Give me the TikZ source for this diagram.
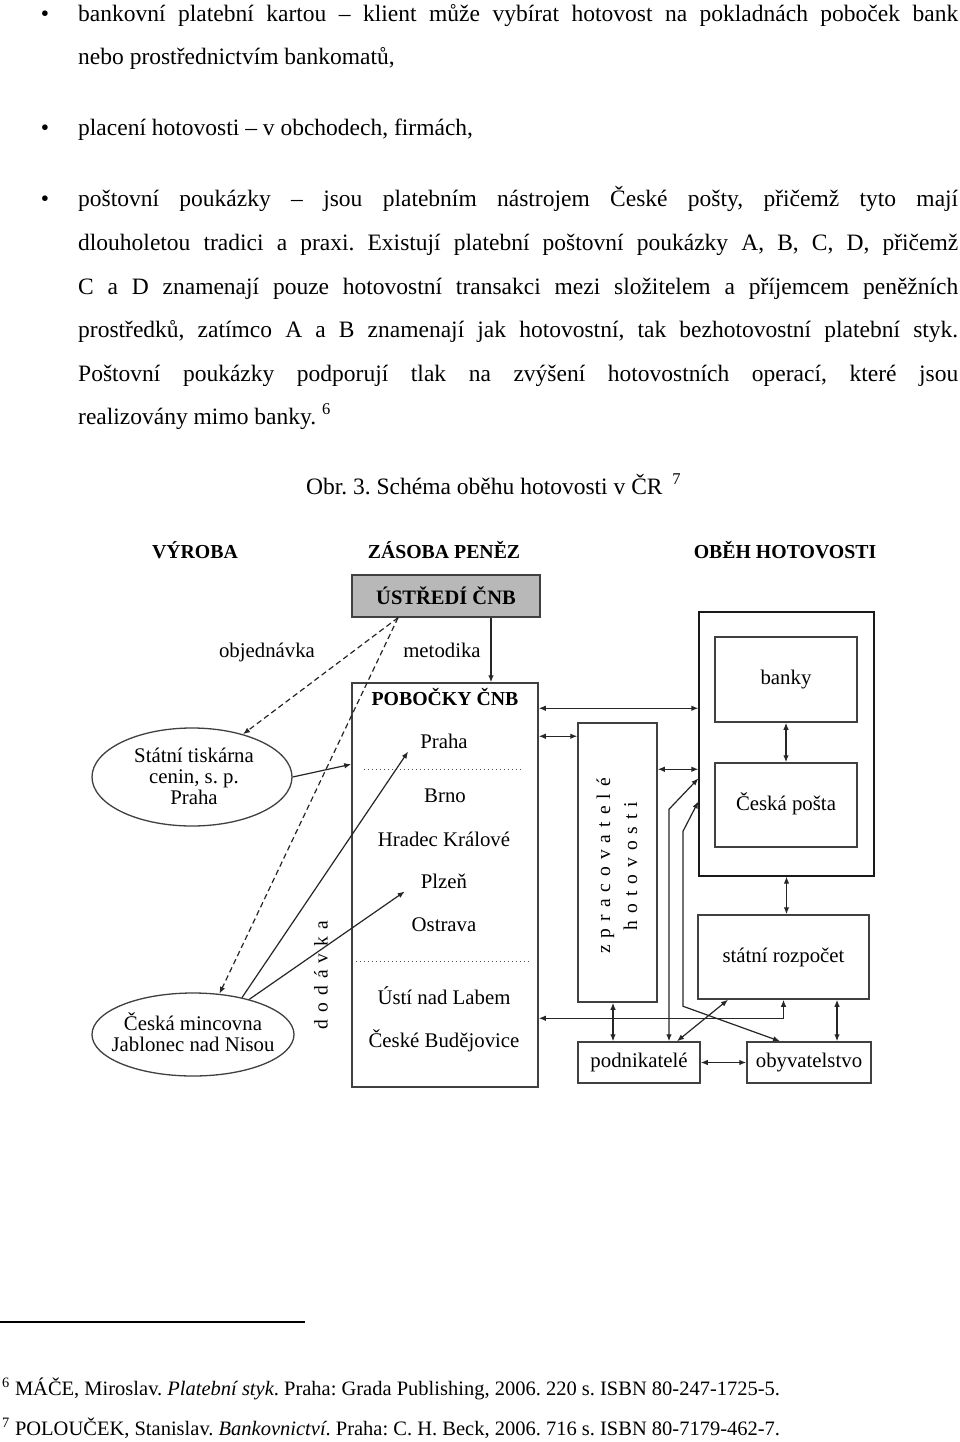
\documentclass[tikz,border=0pt]{standalone}
\usepackage{fontspec}
\setmainfont{Liberation Serif}
\usetikzlibrary{arrows.meta,shapes.geometric}
\frenchspacing
\begin{document}
\frenchspacing
\begin{tikzpicture}[x=1pt,y=-1pt,
  body/.style={font=\fontsize{23.5}{28}\selectfont, inner sep=0pt, anchor=base west},
  fnote/.style={font=\fontsize{20.5}{24}\selectfont, inner sep=0pt, anchor=base west},
  lbl/.style={font=\fontsize{20.8}{24}\selectfont, inner sep=0pt, text height=14.3pt, text depth=4.3pt},
  etxt/.style={font=\fontsize{20.8}{21}\selectfont, inner sep=0pt, align=center},
  hdr/.style={font=\bfseries\fontsize{19.8}{22}\selectfont, inner sep=0pt, text height=13.5pt, text depth=1pt},
  vtext/.style={font=\fontsize{19.5}{27}\selectfont\addfontfeatures{LetterSpace=36}, inner sep=0pt, rotate=90, align=center},
  box/.style={draw=black!75, line width=1.5pt, inner sep=0pt},
  ell/.style={ellipse, draw=black!75, line width=1.3pt, inner sep=0pt},
  con/.style={line width=1.2pt, draw=black!85},
  arr/.style={con, -{Latex[length=7pt,width=5.5pt]}},
  darr/.style={con, {Latex[length=7pt,width=5.5pt]}-{Latex[length=7pt,width=5.5pt]}},
  dsh/.style={arr, dash pattern=on 5.5pt off 3.5pt},
  dots/.style={line width=1pt, dash pattern=on 1pt off 3pt, black!70},
]
\useasboundingbox (0,0) rectangle (960,1442);
\fill[white] (0,0) rectangle (960,1442);

% ---- body text ----
\node[body, anchor=base] (bul1) at (45,22) {\textbullet};
\node[body] (t1) at (78,22) {\makebox[880pt][s]{bankovní platební kartou – klient může vybírat hotovost na pokladnách poboček bank}};
\node[body] (t2) at (78,65) {nebo prostřednictvím bankomatů,};
\node[body, anchor=base] (bul2) at (45,136) {\textbullet};
\node[body] (t3) at (78,136) {placení hotovosti – v obchodech, firmách,};
\node[body, anchor=base] (bul3) at (45,207) {\textbullet};
\node[body] (t4) at (78,207) {\makebox[880pt][s]{poštovní poukázky – jsou platebním nástrojem České pošty, přičemž tyto mají}};
\node[body] (t5) at (78,250) {\makebox[880pt][s]{dlouholetou tradici a praxi. Existují platební poštovní poukázky A, B, C, D, přičemž}};
\node[body] (t6) at (78,294) {\makebox[880pt][s]{C a D znamenají pouze hotovostní transakci mezi složitelem a příjemcem peněžních}};
\node[body] (t7) at (78,337) {\makebox[880pt][s]{prostředků, zatímco A a B znamenají jak hotovostní, tak bezhotovostní platební styk.}};
\node[body] (t8) at (78,381) {\makebox[880pt][s]{Poštovní poukázky podporují tlak na zvýšení hotovostních operací, které jsou}};
\node[body] (t9) at (78,424) {realizovány mimo banky. \textsuperscript{6}};
\node[body] (cap) at (306,494) {Obr. 3. Schéma oběhu hotovosti v ČR \,\textsuperscript{7}};

% ---- footnotes ----
\draw[line width=1.5pt] (0,1322) -- (305,1322);
\node[fnote] (fn6) at (2,1395) {\textsuperscript{6} MÁČE, Miroslav. \textit{Platební styk}. Praha: Grada Publishing, 2006. 220 s. ISBN 80-247-1725-5.};
\node[fnote] (fn7) at (2,1435) {\textsuperscript{7} POLOUČEK, Stanislav. \textit{Bankovnictví}. Praha: C. H. Beck, 2006. 716 s. ISBN 80-7179-462-7.};

% ---- diagram headers ----
\node[hdr] (hvyr) at (195,552) {VÝROBA};
\node[hdr] (hzas) at (444,552) {ZÁSOBA PENĚZ};
\node[hdr] (hobe) at (785,552) {OBĚH HOTOVOSTI};

% ---- boxes ----
\node[box, fill=black!28, minimum width=188pt, minimum height=42pt, font=\bfseries\fontsize{20.5}{22}\selectfont] (ustredi) at (446,596) {ÚSTŘEDÍ ČNB};
\node[box, minimum width=186pt, minimum height=404pt] (pobocky) at (445,885) {};
\node[box, minimum width=79pt, minimum height=279pt] (zprac) at (617.5,862.5) {};
\node[draw=black!90, line width=1.2pt, minimum width=175pt, minimum height=264pt] (obeh) at (786.5,744) {};
\node[box, minimum width=142pt, minimum height=85pt, lbl] (banky) at (786,679.5) {banky};
\node[box, minimum width=142pt, minimum height=84pt, lbl] (posta) at (786,805) {Česká pošta};
\node[box, minimum width=171pt, minimum height=84pt, lbl] (rozpocet) at (783.5,957) {státní rozpočet};
\node[box, minimum width=122pt, minimum height=41pt, lbl] (podnik) at (639,1062.5) {podnikatelé};
\node[box, minimum width=124pt, minimum height=41pt, lbl] (obyv) at (809,1062.5) {obyvatelstvo};

% ---- ellipses ----
\node[ell, minimum width=200pt, minimum height=98pt] (tiskarna) at (192,777) {};
\node[etxt] (tiskarnatxt) at (194,776) {Státní tiskárna\\cenin, s. p.\\Praha};
\node[ell, minimum width=202pt, minimum height=83pt] (mincovna) at (193,1034.5) {};
\node[etxt] (mincovnatxt) at (193,1032) {Česká mincovna\\Jablonec nad Nisou};

% ---- pobocky contents ----
\node[lbl, font=\bfseries\fontsize{19.8}{22}\selectfont] (pobtitle) at (445,700) {POBOČKY ČNB};
\node[lbl] (praha) at (444,743) {Praha};
\node[lbl] (brno) at (445,797) {Brno};
\node[lbl] (hradec) at (444,841) {Hradec Králové};
\node[lbl] (plzen) at (444,883) {Plzeň};
\node[lbl] (ostrava) at (444,926) {Ostrava};
\node[lbl] (usti) at (444,999) {Ústí nad Labem};
\node[lbl] (budejovice) at (444,1042) {České Budějovice};
\draw[dots] ([xshift=13pt,yshift=-87pt]pobocky.north west) -- ([xshift=-18pt,yshift=-87pt]pobocky.north east);
\draw[dots] ([xshift=5pt,yshift=-279pt]pobocky.north west) -- ([xshift=-8pt,yshift=-279pt]pobocky.north east);

% ---- other labels ----
\node[lbl] (objednavka) at (267,652) {objednávka};
\node[lbl] (metodika) at (442,652) {metodika};
\node[vtext] (dodavka) at (321,975) {dodávka};
\node[vtext] (zpractxt) at (617,866) {zpracovatelé\\hotovosti};

% ---- connectors ----
\draw[arr] ([xshift=45pt]ustredi.south) -- ([xshift=45pt]ustredi.south |- pobocky.north);
\draw[dsh] ([xshift=-48pt]ustredi.south) -- (tiskarna.40);
\draw[dsh] ([xshift=-48pt]ustredi.south) -- (mincovna.57);
\draw[arr] (tiskarna.east) -- ([yshift=-82pt]pobocky.north west);
\draw[arr] (mincovna.37) -- ([xshift=-12pt,yshift=1pt]praha.south west);
\draw[arr] (mincovna.32) -- ([xshift=-16pt,yshift=1pt]plzen.south west);

\draw[darr] ([yshift=-26pt]pobocky.north east) -- ([yshift=-26pt]pobocky.north east -| obeh.west);
\draw[darr] ([yshift=-54pt]pobocky.north east) -- ([yshift=-54pt]pobocky.north east -| zprac.west);
\draw[darr] ([yshift=-47pt]zprac.north east) -- ([yshift=-47pt]zprac.north east -| obeh.west);
\draw[darr] ([xshift=30pt]podnik.north) -- ++(0,-232) -- ([yshift=-167pt]obeh.north west);
\draw[darr] ([xshift=-29pt]obyv.north) -- ++(-97,-35) -- ++(0,-175) -- ([yshift=-190pt]obeh.north west);
\draw[darr] ([xshift=38pt]podnik.north) -- ([xshift=-55.5pt]rozpocet.south);
\draw[darr] (rozpocet.south) |- ([yshift=-336pt]pobocky.north east);
\draw[darr] ([xshift=-4.5pt]zprac.south) -- ([xshift=-4.5pt]zprac.south |- podnik.north);
\draw[darr] ([xshift=53.5pt]rozpocet.south) -- ([xshift=53.5pt]rozpocet.south |- obyv.north);
\draw[darr] (podnik.east) -- (obyv.west);
\draw[darr] (banky.south) -- (posta.north);
\draw[darr] (obeh.south) -- (obeh.south |- rozpocet.north);
\end{tikzpicture}
\end{document}
